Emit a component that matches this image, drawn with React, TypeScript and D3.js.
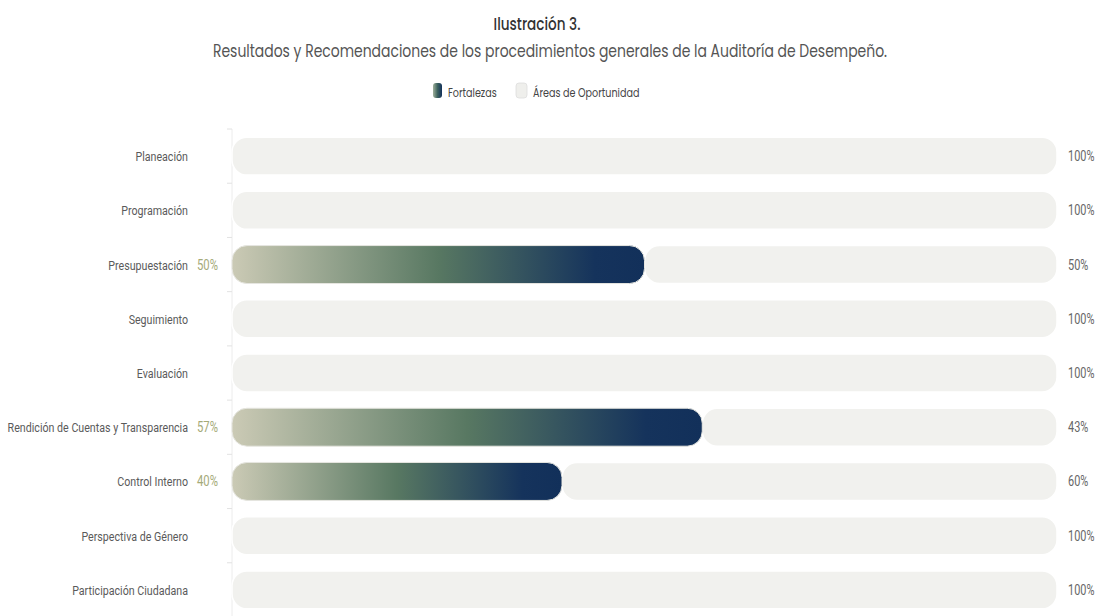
import React from "react";
import * as d3 from "d3";

const categories = [
  "Planeación",
  "Programación",
  "Presupuestación",
  "Seguimiento",
  "Evaluación",
  "Rendición de Cuentas y Transparencia",
  "Control Interno",
  "Perspectiva de Género",
  "Participación Ciudadana",
];
const fortalezas = [0, 0, 50, 0, 0, 57, 40, 0, 0];
const oportunidad = [100, 100, 50, 100, 100, 43, 60, 100, 100];
const seriesNames = ["Fortalezas", "Áreas de Oportunidad"];
const title = "Ilustración 3.";
const subtitle = "Resultados y Recomendaciones de los procedimientos generales de la Auditoría de Desempeño.";

const W = 1101;
const H = 616;
const SX = 0.8;

function T(props: {
  x: number;
  y: number;
  anchor?: string;
  font: string;
  size: number;
  fill: string;
  weight?: number;
  sx?: number;
  children: React.ReactNode;
}) {
  return (
    <text
      transform={`translate(${props.x},${props.y}) scale(${props.sx || SX},1)`}
      textAnchor={props.anchor || "start"}
      fontFamily={props.font}
      fontSize={props.size}
      fontWeight={props.weight || 400}
      fill={props.fill}
    >
      {props.children}
    </text>
  );
}

export default function App() {
  const x = d3.scaleLinear().domain([0, 100]).range([232, 1057]);
  const y = d3.scaleBand<string>().domain(categories).range([129, 617]).paddingInner(0.3).paddingOuter(0.15);
  const bh = y.bandwidth();
  const r = 15;
  const labelFont = "Roboto, 'Liberation Sans', Arial, sans-serif";
  const titleFont = "Poppins, Lato, 'Open Sans', sans-serif";

  const boundaries = categories.map((c) => (y(c) as number) - (y.step() - bh) / 2);

  return (
    <svg width={W} height={H} style={{ position: "absolute", left: 0, top: 0, background: "#fff" }}>
      <defs>
        <linearGradient id="fg" x1="0" y1="0" x2="1" y2="0">
          <stop offset="0%" stopColor="#cbcab5" />
          <stop offset="50%" stopColor="#587862" />
          <stop offset="88%" stopColor="#15335c" />
          <stop offset="100%" stopColor="#12305a" />
        </linearGradient>
        <linearGradient id="lg" x1="0" y1="0" x2="1" y2="0">
          <stop offset="0%" stopColor="#9fb09a" />
          <stop offset="50%" stopColor="#3f6460" />
          <stop offset="100%" stopColor="#12305a" />
        </linearGradient>
      </defs>

      <T x={537} y={30} anchor="middle" font={titleFont} size={17} fill="#333" weight={500}>
        {title}
      </T>
      <text x={550} y={57} textAnchor="middle" fontFamily={titleFont} fontSize={17} fill="#555"
        textLength={674} lengthAdjust="spacingAndGlyphs">
        {subtitle}
      </text>

      {/* legend */}
      <rect x={433} y={83} width={9} height={15} rx={3} fill="url(#lg)" />
      <T x={448} y={97} font={titleFont} size={12} fill="#444">{seriesNames[0]}</T>
      <rect x={516} y={83} width={11} height={15} rx={3} fill="#efefec" stroke="#ddd" strokeWidth={0.8} />
      <T x={533} y={97} font={titleFont} size={12} fill="#444">{seriesNames[1]}</T>

      {/* axis */}
      <line x1={232} x2={232} y1={129} y2={617} stroke="#ececec" />
      {boundaries.map((b, i) => (
        <line key={"t" + i} x1={227} x2={232} y1={b} y2={b} stroke="#e2e2e2" />
      ))}

      {categories.map((c, i) => {
        const yy = y(c) as number;
        const cy = yy + bh / 2;
        const f = fortalezas[i];
        const o = oportunidad[i];
        return (
          <g key={c}>
            {o > 0 && (
              <rect x={x(f)} y={yy} width={x(f + o) - x(f)} height={bh} rx={r}
                fill="#f1f1ee" stroke="#fff" strokeWidth={1.5} />
            )}
            {f > 0 && (
              <rect x={x(0)} y={yy} width={x(f) - x(0)} height={bh} rx={r}
                fill="url(#fg)" stroke="#e6e6e0" strokeWidth={1} />
            )}
            <T x={188} y={cy + 5} anchor="end" font={labelFont} size={13.5} sx={0.79} fill="#5a5a5a">
              {c}
            </T>
            {f > 0 && (
              <T x={218} y={cy + 5} anchor="end" font={labelFont} size={14.5} sx={0.78} fill="#a5aa78">
                {f}%
              </T>
            )}
            <T x={1068} y={cy + 5} font={labelFont} size={14} sx={0.78} fill="#666">
              {o}%
            </T>
          </g>
        );
      })}
    </svg>
  );
}
